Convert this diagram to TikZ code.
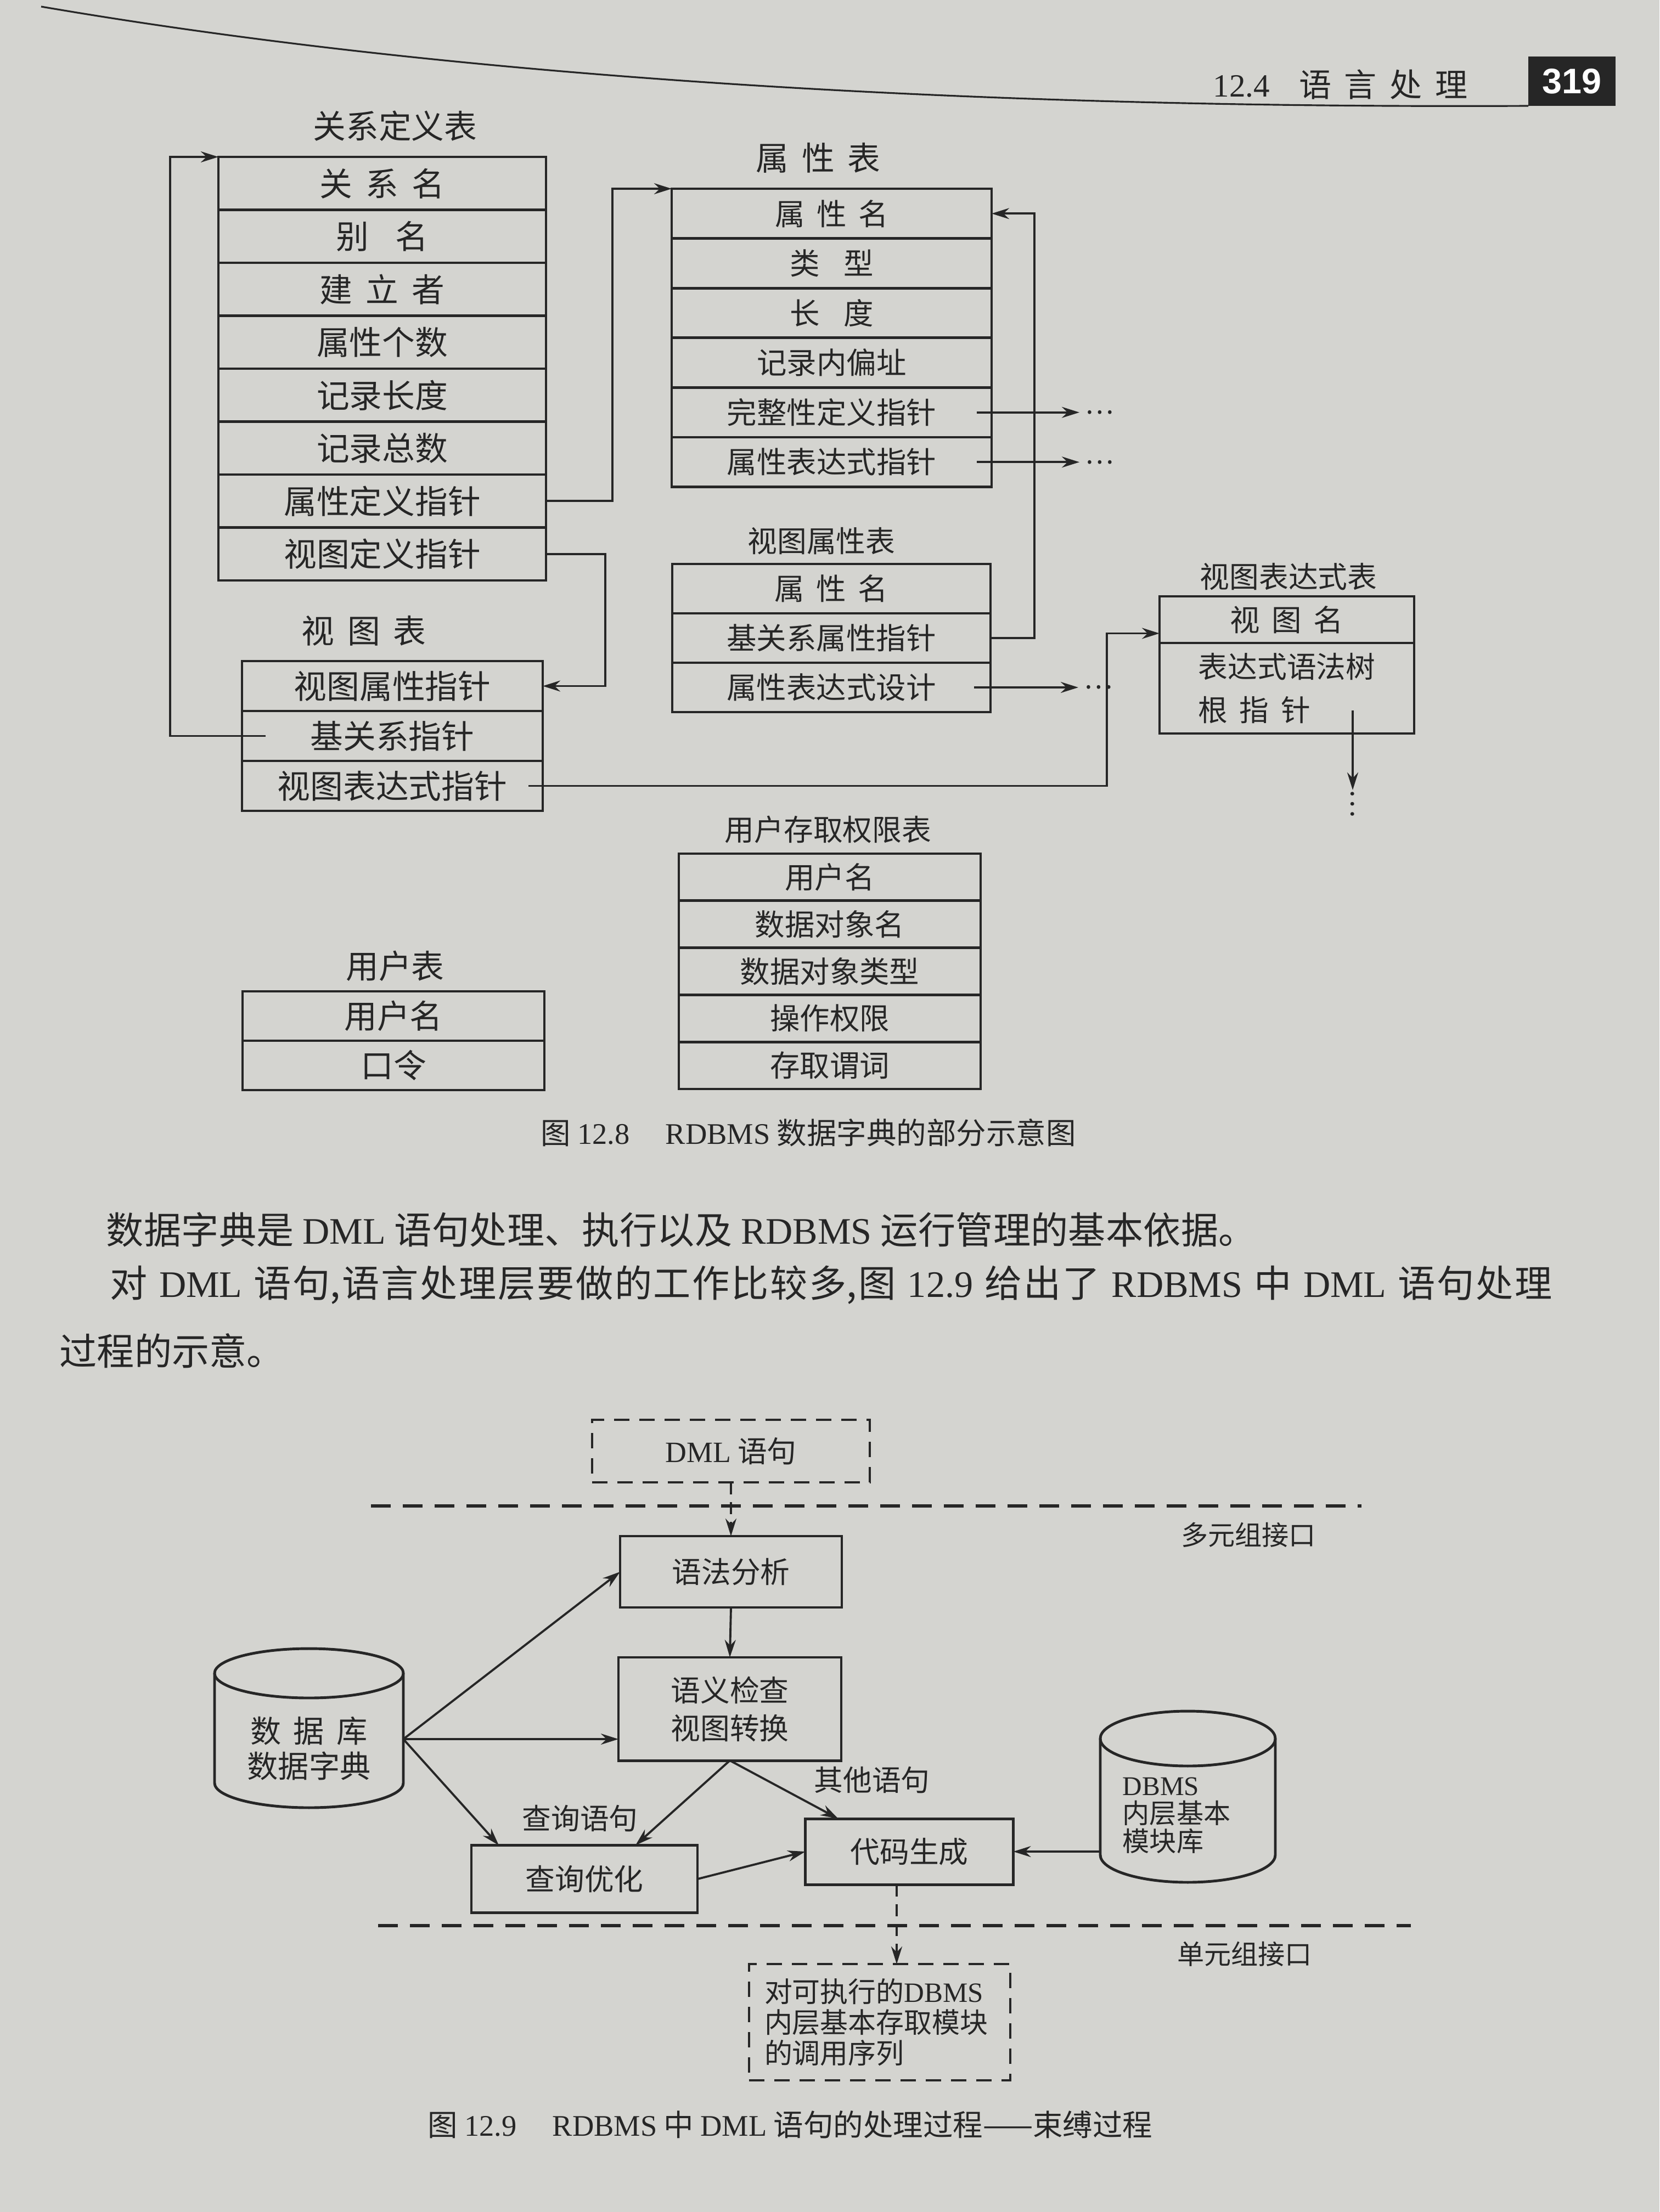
\documentclass[tikz,border=0pt]{standalone}
\usepackage{fontspec}
\setmainfont{Noto Sans CJK SC}
\newfontfamily\latfont{Liberation Serif}
\newfontfamily\pagefont{Liberation Sans}
\usepackage{tikz}
\usetikzlibrary{arrows.meta,positioning}
\definecolor{ink}{RGB}{38,38,38}
\definecolor{paper}{RGB}{212,212,208}
\XeTeXlinebreaklocale "zh"
\XeTeXlinebreakskip=0pt plus 1pt
\newcommand{\lat}[1]{{\latfont #1}}
\newcommand{\gp}{\hspace{0.4em}}
\newcommand{\gpp}{\hspace{0.8em}}
\newcommand{\jline}[2]{\parbox{#1}{\parindent=0pt\parfillskip=0pt\tolerance=10000\hbadness=10000 #2\par}}

\begin{document}
\begin{tikzpicture}[
    fld/.style={draw=ink,line width=1.4pt,text=ink,inner sep=0pt,outer sep=0pt,font=\fontsize{17}{20}\selectfont},
    sfld/.style={fld,font=\fontsize{15.5}{18}\selectfont},
    ttl/.style={text=ink,inner sep=0pt,font=\fontsize{17}{20}\selectfont},
    sttl/.style={ttl,font=\fontsize{15.3}{18}\selectfont},
    ptr/.style={draw=ink,line width=1.1pt,-{Stealth[length=3.2mm,width=2mm]}},
    dptr/.style={ptr,dash pattern=on 2.2mm off 1.4mm},
    dots/.style={text=ink,inner sep=1mm,font=\fontsize{14}{16}\selectfont},
    bx/.style={draw=ink,line width=1.4pt,text=ink,inner sep=0pt,outer sep=0pt,font=\fontsize{15.3}{19.6}\selectfont},
    dbx/.style={bx,line width=1.3pt,dash pattern=on 2.8mm off 1.8mm},
    cyl/.style={inner sep=0pt,outer sep=0pt},
    ln/.style={draw=ink,line width=1.4pt},
    lbl/.style={text=ink,inner sep=0pt,font=\fontsize{15}{18}\selectfont},
    sepl/.style={draw=ink,line width=1.5pt,dash pattern=on 3.6mm off 2.2mm},
    body/.style={text=ink,inner sep=0pt,anchor=west,font=\fontsize{19.4}{24}\selectfont},
    capt/.style={text=ink,inner sep=0pt,font=\fontsize{15.5}{18}\selectfont}]
  \useasboundingbox (0,0) rectangle (30.24,-40.32);
  \fill[paper] (0,0) rectangle (30.24,-40.32);

  % running head
  \node[text=ink,anchor=west,inner sep=0pt,font=\fontsize{16.8}{20}\selectfont] (hd) at (22.10,-1.54) {\lat{12.4}\hspace{0.9em}语\gp 言\gp 处\gp 理};
  \node[fill=ink,text=white,minimum width=1.59cm,minimum height=0.9cm,inner sep=0pt,outer sep=0pt,font={\pagefont\bfseries\fontsize{18.4}{20}\selectfont}] (pn) at (28.645,-1.48) {319};
  \draw[ink,line width=0.9pt] (0.75,-0.12) .. controls (8.5,-1.45) and (18,-1.98) .. (pn.south west);

  % fig 12.8: relation definition table
  \node[ttl] (t1) at (7.20,-2.30) {关系定义表};
  \node[fld,minimum width=5.97cm,minimum height=0.965cm,anchor=north] (r1) at (6.965,-2.86) {关\gp 系\gp 名};
  \node[fld,minimum width=5.97cm,minimum height=0.965cm,below=0pt of r1] (r2) {别\gpp 名};
  \node[fld,minimum width=5.97cm,minimum height=0.965cm,below=0pt of r2] (r3) {建\gp 立\gp 者};
  \node[fld,minimum width=5.97cm,minimum height=0.965cm,below=0pt of r3] (r4) {属性个数};
  \node[fld,minimum width=5.97cm,minimum height=0.965cm,below=0pt of r4] (r5) {记录长度};
  \node[fld,minimum width=5.97cm,minimum height=0.965cm,below=0pt of r5] (r6) {记录总数};
  \node[fld,minimum width=5.97cm,minimum height=0.965cm,below=0pt of r6] (r7) {属性定义指针};
  \node[fld,minimum width=5.97cm,minimum height=0.965cm,below=0pt of r7] (r8) {视图定义指针};

  % attribute table
  \node[ttl] (t2) at (14.91,-2.88) {属\gp 性\gp 表};
  \node[sfld,minimum width=5.83cm,minimum height=0.906cm,anchor=north] (a1) at (15.155,-3.44) {属\gp 性\gp 名};
  \node[sfld,minimum width=5.83cm,minimum height=0.906cm,below=0pt of a1] (a2) {类\gpp 型};
  \node[sfld,minimum width=5.83cm,minimum height=0.906cm,below=0pt of a2] (a3) {长\gpp 度};
  \node[sfld,minimum width=5.83cm,minimum height=0.906cm,below=0pt of a3] (a4) {记录内偏址};
  \node[sfld,minimum width=5.83cm,minimum height=0.906cm,below=0pt of a4] (a5) {完整性定义指针};
  \node[sfld,minimum width=5.83cm,minimum height=0.906cm,below=0pt of a5] (a6) {属性表达式指针};

  % view table
  \node[ttl] (t3) at (6.63,-11.50) {视\gp 图\gp 表};
  \node[fld,minimum width=5.48cm,minimum height=0.91cm,anchor=north] (v1) at (7.15,-12.05) {视图属性指针};
  \node[fld,minimum width=5.48cm,minimum height=0.91cm,below=0pt of v1] (v2) {基关系指针};
  \node[fld,minimum width=5.48cm,minimum height=0.91cm,below=0pt of v2] (v3) {视图表达式指针};

  % view attribute table
  \node[sttl] (t4) at (14.97,-9.86) {视图属性表};
  \node[sfld,minimum width=5.8cm,minimum height=0.9cm,anchor=north] (w1) at (15.15,-10.28) {属\gp 性\gp 名};
  \node[sfld,minimum width=5.8cm,minimum height=0.9cm,below=0pt of w1] (w2) {基关系属性指针};
  \node[sfld,minimum width=5.8cm,minimum height=0.9cm,below=0pt of w2] (w3) {属性表达式设计};

  % view expression table
  \node[sttl] (t5) at (23.48,-10.51) {视图表达式表};
  \node[sfld,minimum width=4.64cm,minimum height=0.85cm,anchor=north] (e1) at (23.45,-10.87) {视\gp 图\gp 名};
  \node[sfld,minimum width=4.64cm,minimum height=1.65cm,below=0pt of e1,align=left,font=\fontsize{15.3}{22.4}\selectfont] (e2) {表达式语法树\\根\gp 指\gp 针};

  % user access table
  \node[sttl] (t6) at (15.09,-15.12) {用户存取权限表};
  \node[sfld,minimum width=5.5cm,minimum height=0.858cm,anchor=north] (u1) at (15.12,-15.56) {用户名};
  \node[sfld,minimum width=5.5cm,minimum height=0.858cm,below=0pt of u1] (u2) {数据对象名};
  \node[sfld,minimum width=5.5cm,minimum height=0.858cm,below=0pt of u2] (u3) {数据对象类型};
  \node[sfld,minimum width=5.5cm,minimum height=0.858cm,below=0pt of u3] (u4) {操作权限};
  \node[sfld,minimum width=5.5cm,minimum height=0.858cm,below=0pt of u4] (u5) {存取谓词};

  % user table
  \node[ttl] (t7) at (7.20,-17.61) {用户表};
  \node[fld,minimum width=5.5cm,minimum height=0.9cm,anchor=north] (p1) at (7.17,-18.07) {用户名};
  \node[fld,minimum width=5.5cm,minimum height=0.9cm,below=0pt of p1] (p2) {口令};

  % pointers
  \coordinate (v2p) at ([xshift=0.43cm]v2.west);
  \draw[ptr] (v2p) -| ([xshift=-0.88cm]r1.north west) -- (r1.north west);
  \draw[ptr] (r7.east) -| ([xshift=-1.08cm]a1.north west) -- (a1.north west);
  \draw[ptr] (r8.east) -| ([xshift=1.14cm]v1.east) -- (v1.east);
  \draw[ptr] (w2.east) -| ([xshift=0.78cm]a1.east) -- (a1.east);
  \node[dots,right=1.6cm of a5] (d1) {…};
  \node[dots,right=1.6cm of a6] (d2) {…};
  \node[dots,right=1.6cm of w3] (d3) {…};
  \draw[ptr] ([xshift=-0.27cm]a5.east) -- (d1);
  \draw[ptr] ([xshift=-0.27cm]a6.east) -- (d2);
  \draw[ptr] ([xshift=-0.3cm]w3.east) -- (d3);
  \draw[ptr] ([xshift=-0.26cm]v3.east) -| ([xshift=-0.96cm,yshift=-0.25cm]e1.west) -- ([yshift=-0.25cm]e1.west);
  \coordinate (e2p) at ([xshift=1.2cm,yshift=-0.405cm]e2.center);
  \node[dots,below=1.45cm of e2p,inner sep=0pt] (vd) {\rotatebox{90}{…}};
  \draw[ptr] (e2p) -- (vd.north);

  \node[capt] (c8) at (14.73,-20.65) {图 \lat{12.8}\hspace{1.2em}\lat{RDBMS} 数据字典的部分示意图};

  % body text
  \node[body] (l1) at (1.93,-22.42) {\jline{20.95cm}{数据字典是 \lat{DML} 语句处理、执行以及 \lat{RDBMS} 运行管理的基本依据。}};
  \node[body] (l2) at (2.00,-23.42) {\jline{26.28cm}{对 \lat{DML} 语句,语言处理层要做的工作比较多,图 \lat{12.9} 给出了 \lat{RDBMS} 中 \lat{DML} 语句处理}};
  \node[body] (l3) at (1.08,-24.62) {过程的示意。};

  % fig 12.9
  \node[dbx,minimum width=5.06cm,minimum height=1.14cm] (dml) at (13.32,-26.45) {\lat{DML} 语句};
  \draw[sepl] (6.76,-27.45) -- (24.81,-27.45);
  \node[lbl,font=\fontsize{14}{16}\selectfont] (mi) at (22.75,-27.98) {多元组接口};
  \node[bx,minimum width=4.04cm,minimum height=1.30cm] (sf) at (13.32,-28.65) {语法分析};
  \node[bx,minimum width=4.06cm,minimum height=1.88cm,align=center] (sm) at (13.30,-31.15) {语义检查\\视图转换};
  \node[bx,minimum width=4.12cm,minimum height=1.23cm] (qo) at (10.65,-34.25) {查询优化};
  \node[bx,minimum width=3.79cm,minimum height=1.20cm] (cg) at (16.57,-33.75) {代码生成};

  \node[cyl,minimum width=3.44cm,minimum height=2.90cm] (db) at (5.63,-31.50) {};
  \draw[ln] ([yshift=-0.45cm]db.north west) -- ([yshift=0.45cm]db.south west) arc[start angle=180,end angle=360,x radius=1.72cm,y radius=0.45cm] -- ([yshift=-0.45cm]db.north east);
  \draw[ln] ([yshift=-0.45cm]db.north) ellipse[x radius=1.72cm,y radius=0.45cm];
  \node[lbl,align=center,font=\fontsize{16}{18.2}\selectfont] (dbt) at ([yshift=-0.37cm]db.center) {数\gp 据\gp 库\\数据字典};

  \node[cyl,minimum width=3.19cm,minimum height=3.12cm] (dbms) at (21.645,-32.75) {};
  \draw[ln] ([yshift=-0.5cm]dbms.north west) -- ([yshift=0.5cm]dbms.south west) arc[start angle=180,end angle=360,x radius=1.595cm,y radius=0.5cm] -- ([yshift=-0.5cm]dbms.north east);
  \draw[ln] ([yshift=-0.5cm]dbms.north) ellipse[x radius=1.595cm,y radius=0.5cm];
  \node[lbl,align=left,anchor=west,font=\fontsize{14}{14.5}\selectfont] (dbmst) at ([xshift=0.40cm,yshift=-0.34cm]dbms.west) {\lat{DBMS}\\内层基本\\模块库};

  \draw[sepl] (6.89,-35.10) -- (25.71,-35.10);
  \node[lbl,font=\fontsize{14}{16}\selectfont] (ui) at (22.68,-35.62) {单元组接口};
  \node[dbx,minimum width=4.76cm,minimum height=2.12cm,text width=4.2cm,align=left,font=\fontsize{14.5}{16}\selectfont] (ob) at (16.03,-36.86) {对可执行的\lat{DBMS}\\内层基本存取模块\\的调用序列};

  \node[lbl] (ql) at (10.57,-33.15) {查询语句};
  \node[lbl] (ol) at (15.89,-32.45) {其他语句};

  \coordinate (dbo) at ([yshift=-0.2cm]db.east);
  \coordinate (cgo) at ([xshift=-0.23cm]cg.south);
  \draw[dptr] (dml.south) -- (sf.north);
  \draw[ptr] (sf.south) -- (sm.north);
  \draw[ptr] (dbo) -- (sf.west);
  \draw[ptr] (dbo) -- (dbo -| sm.west);
  \draw[ptr] (dbo) -- ([xshift=0.5cm]qo.north west);
  \draw[ptr] (sm.south) -- ([xshift=0.93cm]qo.north);
  \draw[ptr] (sm.south) -- ([xshift=0.6cm]cg.north west);
  \draw[ptr] (qo.east) -- (cg.west);
  \draw[ptr] (dbms.west |- cg.east) -- (cg.east);
  \draw[dptr] (cgo) -- (cgo |- ob.north);

  \node[capt] (c9) at (14.40,-38.73) {图 \lat{12.9}\hspace{1.2em}\lat{RDBMS} 中 \lat{DML} 语句的处理过程——束缚过程};
\end{tikzpicture}
\end{document}
